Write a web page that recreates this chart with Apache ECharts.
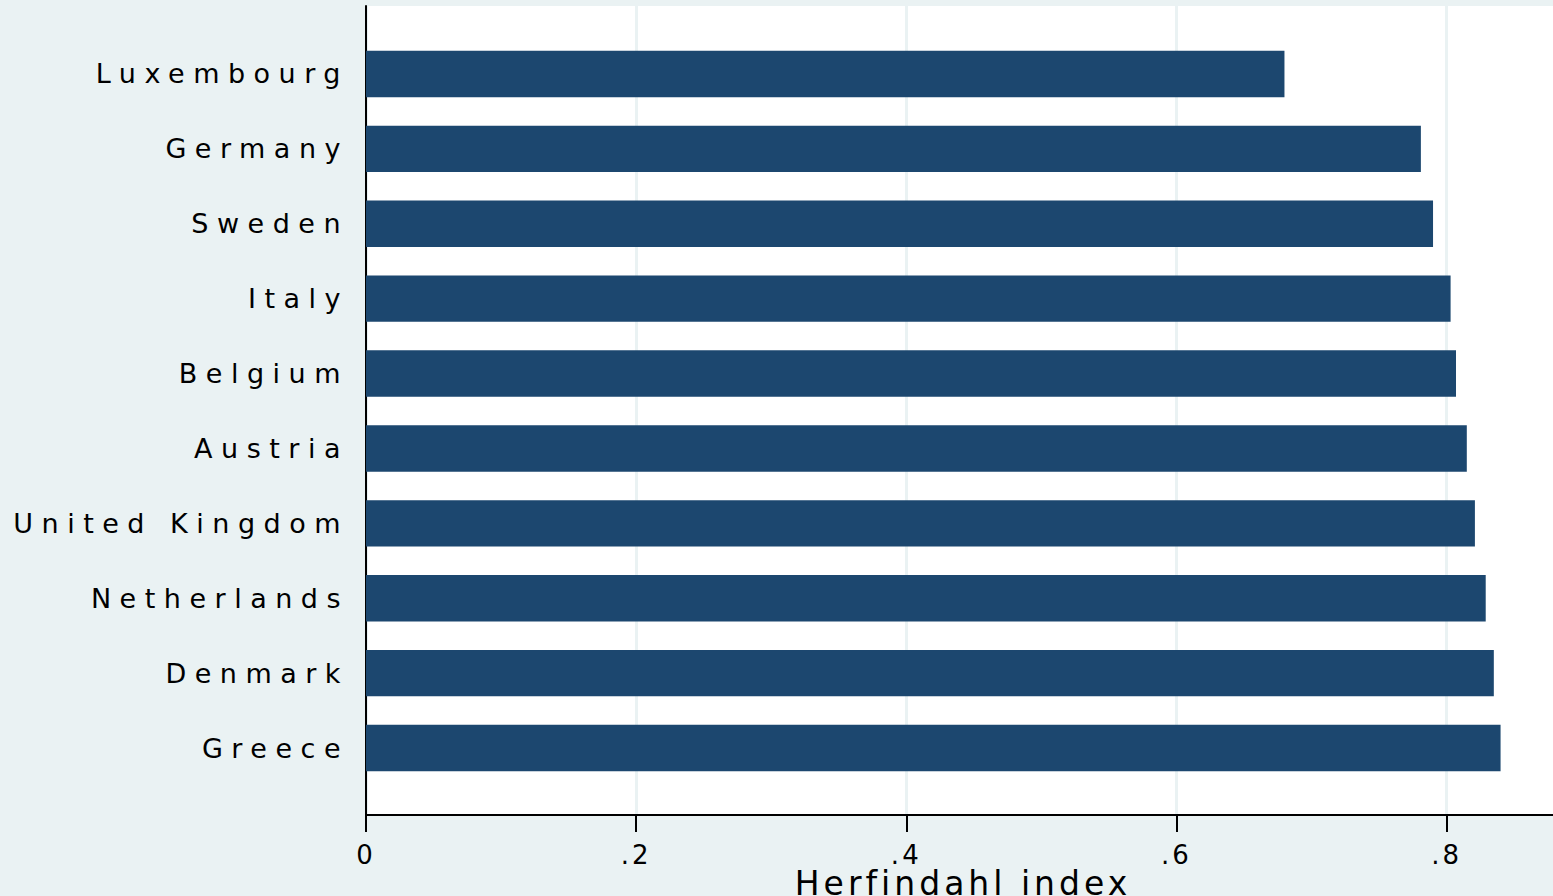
<!DOCTYPE html>
<html>
<head>
<meta charset="utf-8">
<script src="https://cdn.jsdelivr.net/npm/echarts@6/dist/echarts.min.js"></script>
<style>
  html, body { margin: 0; padding: 0; background: #eaf2f3; overflow: hidden; }
  #chart { width: 1553px; height: 896px; }
  /* the reference text is set very wide; imitate it with tracking */
  #chart svg text { letter-spacing: 8.5px; }
  #chart svg text[style*="33px"] { letter-spacing: 4px; }
  #chart svg text[style*="26px"] { letter-spacing: 3px; }
</style>
</head>
<body>
<div id="chart"></div>
<script>
// countries, top to bottom
const countries = ['Luxembourg', 'Germany', 'Sweden', 'Italy', 'Belgium',
    'Austria', 'United Kingdom', 'Netherlands', 'Denmark', 'Greece'];
// Herfindahl index per country
const herfindahl = [0.680, 0.781, 0.790, 0.803, 0.807, 0.815, 0.821, 0.829, 0.835, 0.840];
const xTicks = ['0', '.2', '.4', '.6', '.8'];
const xMax = 0.884;

const font = 'DejaVu Sans';
const chart = echarts.init(document.getElementById('chart'), null, {renderer: 'svg'});

chart.setOption({
    backgroundColor: '#eaf2f3',
    animation: false,
    grid: [
        // frame: white plot region, gridlines, x axis
        {left: 366, width: 1194, top: 6, bottom: 81, show: true, backgroundColor: '#ffffff',
            borderWidth: 0, outerBoundsMode: 'none'},
        // bars
        {left: 366, width: 1194, top: 36.5, bottom: 110.5, outerBoundsMode: 'none'}
    ],
    xAxis: [
        {
            gridIndex: 0, type: 'value', min: 0, max: xMax, interval: 0.2,
            axisLine: {show: true, lineStyle: {color: '#000', width: 2}},
            axisTick: {show: true, length: 17, lineStyle: {color: '#000', width: 2}},
            splitLine: {show: true, lineStyle: {color: '#eaf2f3', width: 3}},
            axisLabel: {
                showMaxLabel: false, color: '#000', fontFamily: font, fontSize: 26, margin: 27,
                formatter: (v) => xTicks[Math.round(v * 5)] || ''
            },
            name: 'Herfindahl index', nameLocation: 'middle', nameGap: 52, nameMoveOverlap: false,
            nameTextStyle: {color: '#000', fontFamily: font, fontSize: 33}
        },
        {gridIndex: 1, type: 'value', min: 0, max: xMax, show: false}
    ],
    yAxis: [
        {
            gridIndex: 0, type: 'value', min: 0, max: 1,
            axisLine: {show: true, lineStyle: {color: '#000', width: 2}},
            axisTick: {show: false}, axisLabel: {show: false}, splitLine: {show: false}
        },
        {
            gridIndex: 1, type: 'category', data: countries, inverse: true,
            axisLine: {show: false}, axisTick: {show: false},
            axisLabel: {color: '#000', fontFamily: font, fontSize: 27, margin: 17}
        }
    ],
    series: [{
        type: 'bar', xAxisIndex: 1, yAxisIndex: 1,
        data: herfindahl, barCategoryGap: '38%',
        itemStyle: {color: '#1c476f'}
    }]
});
</script>
</body>
</html>
